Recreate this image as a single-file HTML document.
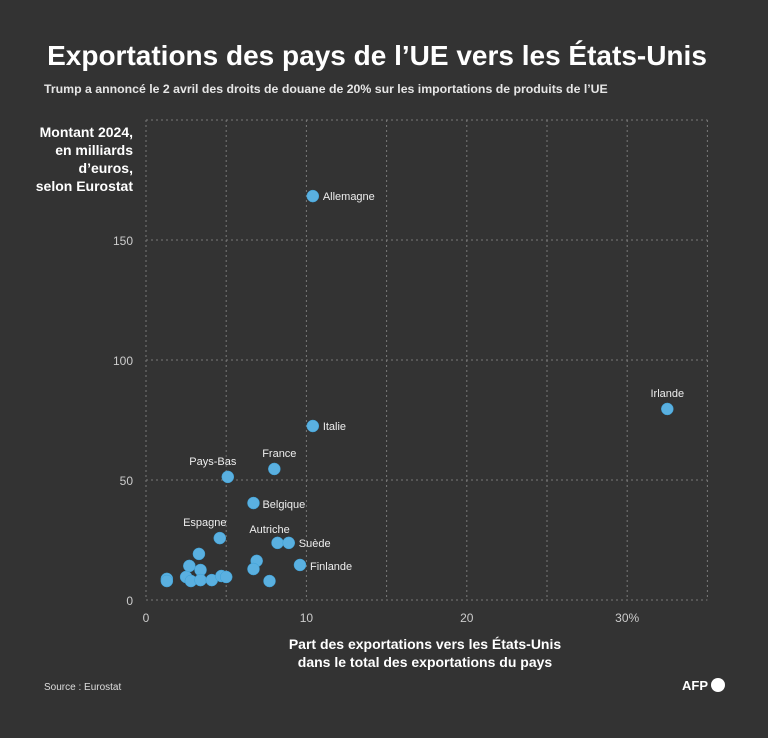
<!DOCTYPE html>
<html><head><meta charset="utf-8"><style>
body{margin:0;background:#333333;width:768px;height:733px;overflow:hidden;font-family:"Liberation Sans",sans-serif;color:#fff}
svg text{font-family:"Liberation Sans",sans-serif}
</style></head><body>
<svg id="chart" width="768" height="733">
<text x="377" y="65" text-anchor="middle" font-size="28" font-weight="bold" fill="#fff">Exportations des pays de l’UE vers les États-Unis</text>
<text x="44" y="93" font-size="12.3" font-weight="bold" fill="#e6e6e6">Trump a annoncé le 2 avril des droits de douane de 20% sur les importations de produits de l’UE</text>
<g font-size="14" font-weight="bold" fill="#fff" text-anchor="end">
<text x="133" y="137">Montant 2024,</text><text x="133" y="155">en milliards</text><text x="133" y="173">d’euros,</text><text x="133" y="191">selon Eurostat</text></g>
<g font-size="14" font-weight="bold" fill="#fff" text-anchor="middle">
<text x="425" y="649">Part des exportations vers les États-Unis</text><text x="425" y="667">dans le total des exportations du pays</text></g>
<text x="44" y="690" font-size="10" fill="#ddd">Source : Eurostat</text>
<text x="682" y="690" font-size="13" font-weight="bold" fill="#fff">AFP</text>
<circle cx="718" cy="685" r="7" fill="#fff"/>
<g id="grid"></g><g id="ticks"></g><g id="pts"></g>
</svg>
<script>
const xTicks=[0,10,20,30];
const xTickLabels=["0","10","20","30%"];
const yTicks=[0,50,100,150];
const countries=["Allemagne","Irlande","Italie","France","Pays-Bas","Belgique","Espagne","Autriche","Suède","Finlande","","","","","","","","","","","","","",""];
const shares=[10.4,32.5,10.4,8.0,5.1,6.7,4.6,8.2,8.9,9.6,6.9,6.7,7.7,3.3,2.7,3.4,1.3,1.3,2.5,2.8,3.4,4.1,4.7,5.0];
const amounts=[168.3,79.6,72.5,54.6,51.3,40.4,25.8,23.8,23.8,14.6,16.3,12.9,7.9,19.2,14.2,12.5,8.8,7.9,9.6,7.9,8.3,8.3,10,9.6];
const labelPos={"Allemagne":[10,4,"start"],"Irlande":[0,-12,"middle"],"Italie":[10,4,"start"],"France":[5,-12,"middle"],"Pays-Bas":[-15,-12,"middle"],"Belgique":[9,5,"start"],"Espagne":[-15,-12,"middle"],"Autriche":[-8,-10,"middle"],"Suède":[10,4,"start"],"Finlande":[10,5,"start"]};
const X=v=>146+v*16.04, Y=v=>600-v*2.4;
const NS="http://www.w3.org/2000/svg";
const grid=document.getElementById('grid'),ticks=document.getElementById('ticks'),pts=document.getElementById('pts');
function mk(tag,at,parent){const e=document.createElementNS(NS,tag);for(const k in at)e.setAttribute(k,at[k]);parent.appendChild(e);return e;}
for(let v=0;v<=35;v+=5){const l=mk('line',{x1:X(v),x2:X(v),y1:Y(200),y2:Y(0),stroke:'#7a7a7a','stroke-dasharray':'2,3','stroke-width':1},grid);

}
for(const v of [0,50,100,150,200]){const l=mk('line',{x1:X(0),x2:X(35),y1:Y(v),y2:Y(v),stroke:'#7a7a7a','stroke-dasharray':'2,3','stroke-width':1},grid);

}
xTicks.forEach((v,i)=>{const t=mk('text',{x:X(v),y:622,'text-anchor':'middle','font-size':12,fill:'#ccc'},ticks);t.textContent=xTickLabels[i];

});
yTicks.forEach(v=>{const t=mk('text',{x:133,y:Y(v)+5,'text-anchor':'end','font-size':12,fill:'#ccc'},ticks);t.textContent=v;

});
shares.forEach((s,i)=>{const c=mk('circle',{cx:X(s),cy:Y(amounts[i]),r:6,fill:'#5ab0e0',stroke:'#3a9fd6','stroke-width':0.5},pts);


const n=countries[i];if(n){const p=labelPos[n];const t=mk('text',{x:X(s)+p[0],y:Y(amounts[i])+p[1],'text-anchor':p[2],'font-size':11,fill:'#eee'},pts);t.textContent=n;

}});
</script>
</body></html>
